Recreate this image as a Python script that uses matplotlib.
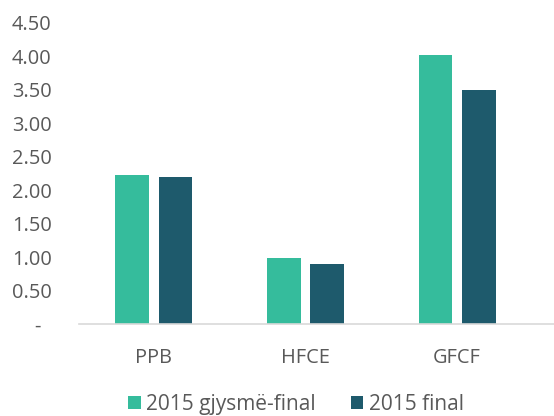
import matplotlib
matplotlib.use("Agg")
import matplotlib.pyplot as plt
import numpy as np
from matplotlib.patches import Patch

categories = ["PPB", "HFCE", "GFCF"]
series_names = ["2015 gjysmë-final", "2015 final"]
semi_final = [2.22, 0.98, 4.02]
final = [2.20, 0.90, 3.49]
yticks = [0, 0.5, 1.0, 1.5, 2.0, 2.5, 3.0, 3.5, 4.0, 4.5]
ytick_labels = ["-  ", "0.50", "1.00", "1.50", "2.00", "2.50", "3.00", "3.50", "4.00", "4.50"]

plt.rcParams['font.family'] = ['Open Sans', 'DejaVu Sans']
green = "#35BC9C"
dark = "#1E5A6C"
txt = "#595959"

fig = plt.figure(figsize=(5.54, 4.16), dpi=100)
ax = fig.add_axes([0.142, 0.221, 0.858, 0.724])
x = np.arange(len(categories))
w = 0.224
off = 0.142
ax.bar(x - off, semi_final, width=w, color=green, label=series_names[0])
ax.bar(x + off, final, width=w, color=dark, label=series_names[1])

ax.set_xlim(-0.497, 2.64)
ax.set_ylim(0, 4.5)
ax.set_yticks(yticks)
ax.set_yticklabels(ytick_labels)
ax.set_xticks(x)
ax.set_xticklabels(categories)
ax.tick_params(axis='y', length=0, pad=19.4, labelsize=14.4, labelcolor=txt)
ax.tick_params(axis='x', length=0, pad=17, labelsize=14.4, labelcolor=txt)
for s in ['top', 'right', 'left']:
    ax.spines[s].set_visible(False)
ax.spines['bottom'].set_color('#D9D9D9')
ax.spines['bottom'].set_linewidth(1.2)

handles = [Patch(facecolor=green), Patch(facecolor=dark)]
fig.legend(handles, series_names, loc='center', bbox_to_anchor=(0.534, 0.028),
           ncol=2, frameon=False, fontsize=15, labelcolor=txt,
           handlelength=0.6, handleheight=0.6, handletextpad=0.25,
           columnspacing=1.7, borderpad=0)

fig.savefig("out.png", dpi=100)
